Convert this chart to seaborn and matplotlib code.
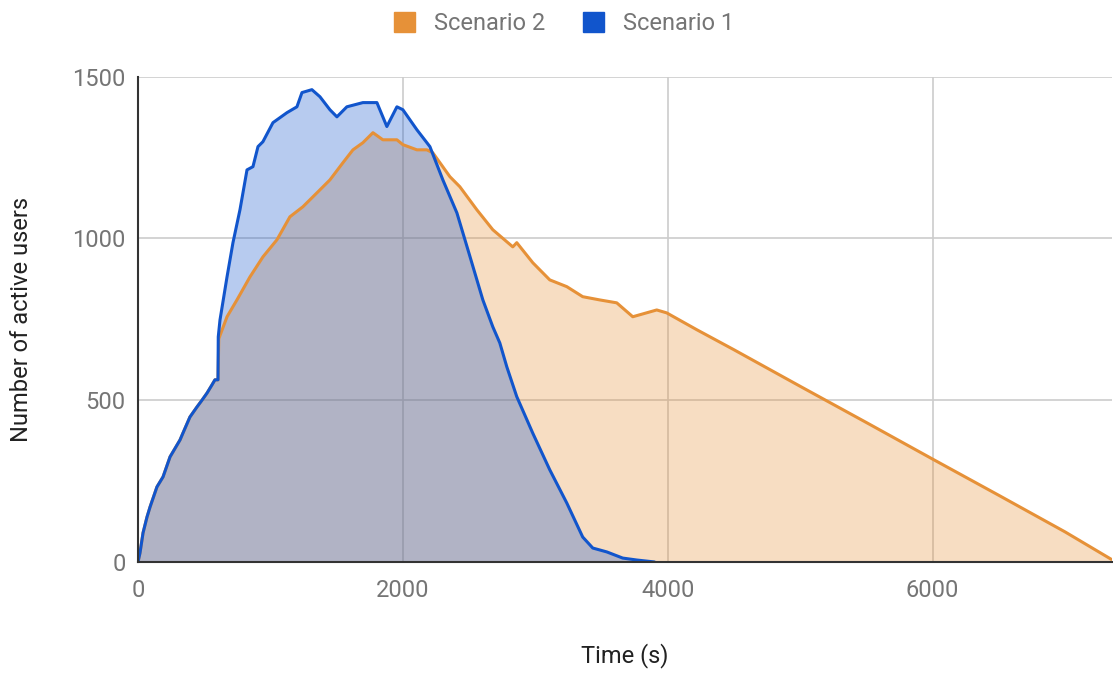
# plot.py
# Area chart: number of active users over time for two load-test scenarios.

import matplotlib
matplotlib.use("Agg")
import matplotlib.pyplot as plt
import matplotlib.patches as mpatches
import pandas as pd
import seaborn as sns

# Scenario 1 (blue)
S1_TIME = [0, 15, 38, 68, 91, 143, 189, 242, 317, 340, 392, 445, 483, 521, 558,
           581, 604, 606, 619, 672, 717, 770, 823, 868, 906, 943, 1019, 1125,
           1200, 1238, 1313, 1374, 1449, 1502, 1577, 1698, 1804, 1879, 1955,
           2000, 2106, 2204, 2302, 2408, 2506, 2604, 2679, 2732, 2785, 2860,
           2981, 3109, 3238, 3358, 3434, 3540, 3660, 3766, 3900]
S1_USERS = [0, 28, 90, 139, 170, 232, 263, 325, 377, 399, 448, 479, 500, 522,
            547, 563, 563, 696, 748, 881, 987, 1089, 1212, 1222, 1284, 1299,
            1358, 1389, 1407, 1451, 1460, 1438, 1398, 1376, 1407, 1420, 1420,
            1346, 1407, 1398, 1336, 1284, 1181, 1079, 945, 810, 727, 677, 603,
            511, 398, 285, 182, 77, 43, 31, 12, 6, 0]

# Scenario 2 (orange) — identical to Scenario 1 until ~600 s
S2_TIME = [0, 15, 38, 68, 91, 143, 189, 242, 317, 340, 392, 445, 483, 521, 558,
           581, 604, 610, 672, 747, 845, 943, 1049, 1147, 1245, 1351, 1449,
           1547, 1623, 1698, 1774, 1849, 1955, 2000, 2106, 2181, 2226, 2355,
           2430, 2558, 2679, 2830, 2860, 2981, 3109, 3238, 3358, 3487, 3615,
           3736, 3917, 3992, 4219, 4500, 5000, 5500, 6000, 6500, 7000, 7350]
S2_USERS = [0, 28, 90, 139, 170, 232, 263, 325, 377, 399, 448, 479, 500, 522,
            547, 563, 563, 690, 758, 810, 881, 943, 996, 1067, 1098, 1141, 1181,
            1234, 1274, 1296, 1327, 1305, 1305, 1290, 1274, 1274, 1265, 1191,
            1160, 1089, 1027, 974, 987, 925, 872, 851, 820, 810, 801, 758, 779,
            770, 718, 656, 543, 431, 318, 206, 93, 8]

SERIES = ["Scenario 2", "Scenario 1"]
COLORS = {"Scenario 2": "#e69138", "Scenario 1": "#1155cc"}

df = pd.concat([
    pd.DataFrame({"time": S2_TIME, "users": S2_USERS, "series": "Scenario 2"}),
    pd.DataFrame({"time": S1_TIME, "users": S1_USERS, "series": "Scenario 1"}),
])

sns.set_style("white")
plt.rcParams["font.family"] = ["Roboto", "DejaVu Sans"]

fig = plt.figure(figsize=(11.13, 6.73), dpi=100)
ax = fig.add_axes([0.124, 0.165, 0.8755, 0.721])

# areas first, then lines on top
for name in SERIES:
    sub = df[df["series"] == name]
    ax.fill_between(sub["time"], 0, sub["users"], color=COLORS[name], alpha=0.3,
                    linewidth=0, zorder=1)
sns.lineplot(data=df, x="time", y="users", hue="series", hue_order=SERIES,
             palette=COLORS, linewidth=2.2, sort=False, estimator=None,
             legend=False, ax=ax, zorder=3)

ax.set_xlim(0, 7358)
ax.set_ylim(0, 1500)
ax.set_xticks([0, 2000, 4000, 6000])
ax.set_yticks([0, 500, 1000, 1500])
ax.grid(True, color="#cccccc", linewidth=1.2, zorder=0)
ax.set_axisbelow(True)
for side in ["top", "right"]:
    ax.spines[side].set_visible(False)
for side in ["left", "bottom"]:
    ax.spines[side].set_color("#333333")
    ax.spines[side].set_linewidth(1.5)
    ax.spines[side].set_zorder(4)
ax.tick_params(axis="both", length=0, labelsize=17, colors="#757575")
ax.tick_params(axis="x", pad=12)
ax.tick_params(axis="y", pad=9)

ax.set_xlabel("Time (s)", fontsize=17, color="#222222", labelpad=30)
ax.set_ylabel("Number of active users", fontsize=17, color="#222222", labelpad=28)

handles = [mpatches.Patch(color=COLORS[n], label=n) for n in SERIES]
fig.legend(handles=handles, loc="center", bbox_to_anchor=(0.507, 0.965), ncol=2,
           frameon=False, fontsize=17, labelcolor="#757575", handlelength=0.9,
           handleheight=0.9, handletextpad=0.8, columnspacing=1.6)

fig.savefig("out.png", dpi=100)
plt.close()
